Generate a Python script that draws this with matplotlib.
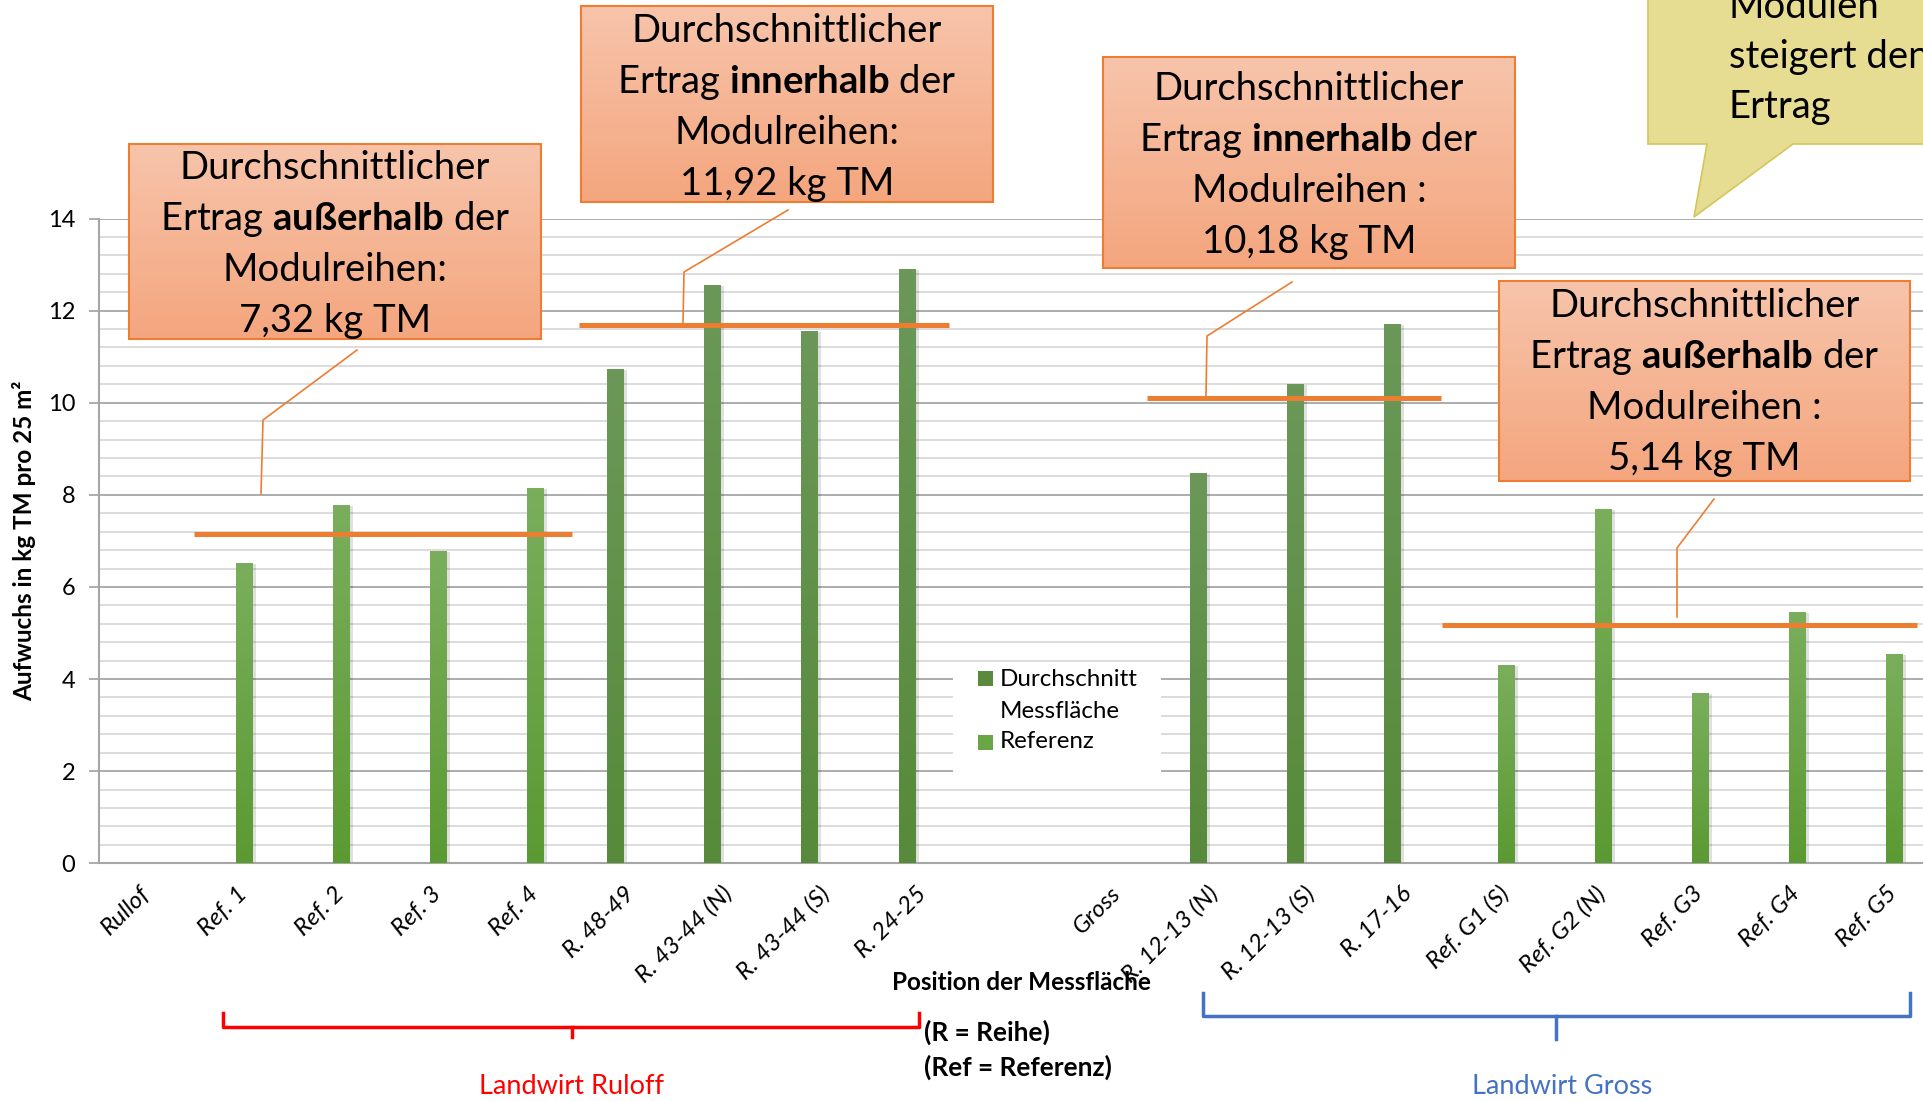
import numpy as np
import matplotlib
matplotlib.use("Agg")
import matplotlib.pyplot as plt
from matplotlib.patches import Rectangle, Polygon
from matplotlib.colors import to_rgb
from matplotlib import transforms

plt.rcParams['font.family'] = ['Lato', 'DejaVu Sans']
plt.rcParams['mathtext.fontset'] = 'custom'
plt.rcParams['mathtext.rm'] = 'Lato'
plt.rcParams['mathtext.bf'] = 'Lato:bold'

# Kategorien (Position der Messfläche), Index 9 ist eine leere Lücke
kategorien = ["Rullof", "Ref. 1", "Ref. 2", "Ref. 3", "Ref. 4", "R. 48-49",
              "R. 43-44 (N)", "R. 43-44 (S)", "R. 24-25", "", "Gross",
              "R. 12-13 (N)", "R. 12-13 (S)", "R. 17-16", "Ref. G1 (S)",
              "Ref. G2 (N)", "Ref. G3", "Ref. G4", "Ref. G5"]

nan = np.nan
# Aufwuchs in kg TM pro 25 m²
messflaeche = [nan, nan, nan, nan, nan, 10.73, 12.56, 11.56, 12.90, nan, nan,
               8.47, 10.41, 11.71, nan, nan, nan, nan, nan]
referenz = [nan, 6.53, 7.78, 6.79, 8.15, nan, nan, nan, nan, nan, nan,
            nan, nan, nan, 4.31, 7.69, 3.70, 5.46, 4.54]

# eingezeichnete Mittelwert-Linien (Niveau und Bereich in Kategorien)
linien_niveau = [7.14, 11.69, 10.10, 5.17]
linien_von = [0.57, 4.53, 10.38, 13.42]
linien_bis = [4.46, 8.35, 13.41, 18.32]

B, H = 1924, 1101
fig = plt.figure(figsize=(B / 100, H / 100), dpi=100)
ax = fig.add_axes([99 / B, 1 - 863.3 / H, 1 - 99 / B, (863.3 - 218.5) / H])

x = np.arange(len(kategorien))
breite = 0.175


def verlauf(rects, oben, unten):
    farben = np.linspace(to_rgb(oben), to_rgb(unten), 64)[:, None, :]
    for r in rects:
        h = r.get_height()
        if np.isnan(h):
            continue
        im = ax.imshow(farben, extent=(r.get_x(), r.get_x() + r.get_width(), 0, h),
                       origin='upper', aspect='auto', zorder=3, interpolation='bilinear')
        im.set_clip_path(r)


# Schatten der Balken
schatten = transforms.offset_copy(ax.transData, fig=fig, x=3, y=-1, units='dots')
for werte, dx in [(messflaeche, -breite / 2), (referenz, breite / 2)]:
    ax.bar(x + dx, werte, breite, color='black', alpha=0.12, transform=schatten, zorder=2)

b1 = ax.bar(x - breite / 2, messflaeche, breite, color='#5e8f44', zorder=3,
            label='Durchschnitt Messfläche')
b2 = ax.bar(x + breite / 2, referenz, breite, color='#68a63f', zorder=3, label='Referenz')
verlauf(b1, '#6b9858', '#578a3a')
verlauf(b2, '#7aae5c', '#5b9a33')

ax.hlines(linien_niveau, linien_von, linien_bis, color='#ed7d31', lw=3.6, zorder=4)

ax.set_xlim(-0.412, 18.39)
ax.set_ylim(0, 14)
ax.set_yticks(np.arange(0, 15, 2))
ax.set_yticks(np.linspace(0, 14, 36), minor=True)
ax.grid(which='major', axis='y', color='#a6a6a6', lw=1.3)
ax.grid(which='minor', axis='y', color='#d9d9d9', lw=1.3)
ax.set_axisbelow(True)
ax.tick_params(axis='y', which='major', length=7, width=1.3, color='#a6a6a6',
               labelsize=17, pad=10)
ax.tick_params(axis='y', which='minor', length=0)
ax.set_xticks(x)
ax.set_xticklabels(kategorien, rotation=45, ha='right', va='top',
                   rotation_mode='anchor', fontstyle='italic', fontsize=17.5)
ax.tick_params(axis='x', length=0, pad=14)
for s in ['top', 'right']:
    ax.spines[s].set_visible(False)
for s in ['left', 'bottom']:
    ax.spines[s].set_color('#a6a6a6')
    ax.spines[s].set_linewidth(1.5)

fig.text(24 / B, 1 - 541 / H, "Aufwuchs in kg TM pro 25 m²", rotation=90,
         ha='center', va='center', fontsize=17.5, fontweight='bold')

# Überlagerung in Pixelkoordinaten für Beschriftungen und Kästen
ov = fig.add_axes([0, 0, 1, 1])
ov.set_zorder(5)
ov.patch.set_alpha(0)
ov.axis('off')


def kasten(x0, y0, x1, y1, zeilen, basis, leine):
    farben = np.linspace(to_rgb('#f7c4ab'), to_rgb('#f4a67e'), 64)[:, None, :]
    ov.imshow(farben, extent=(x0, x1, y1, y0), origin='upper', aspect='auto', zorder=2)
    ov.add_patch(Rectangle((x0, y0), x1 - x0, y1 - y0, fill=False, ec='#ed7d31',
                           lw=1.5, zorder=3))
    for i, z in enumerate(zeilen):
        ov.text((x0 + x1) / 2, basis + i * 51, z, ha='center', va='baseline',
                fontsize=27.5, zorder=4)
    ov.plot(*zip(*leine), color='#ed7d31', lw=1.2, zorder=3)


kasten(129, 144, 541, 339,
       ["Durchschnittlicher", r"Ertrag $\mathbf{außerhalb}$ der", "Modulreihen:", "7,32 kg TM"],
       179, [(357, 350), (263, 420), (261, 494)])
kasten(581, 6, 993, 202,
       ["Durchschnittlicher", r"Ertrag $\mathbf{innerhalb}$ der", "Modulreihen:", "11,92 kg TM"],
       42, [(788, 210), (684, 272), (683, 323)])
kasten(1103, 57, 1515, 268,
       ["Durchschnittlicher", r"Ertrag $\mathbf{innerhalb}$ der", "Modulreihen :", "10,18 kg TM"],
       100, [(1292, 282), (1207, 336), (1206, 396)])
kasten(1499, 281, 1910, 481,
       ["Durchschnittlicher", r"Ertrag $\mathbf{außerhalb}$ der", "Modulreihen :", "5,14 kg TM"],
       317, [(1714, 499), (1677, 548), (1677, 617)])

# gelbe Sprechblase oben rechts (im Original abgeschnitten)
ov.add_patch(Polygon([(1648, -30), (1960, -30), (1960, 144), (1793, 144), (1694, 217),
                      (1707, 144), (1648, 144)], closed=True, fc='#e6dd92', ec='#d2c75a',
                     lw=1.2, zorder=2))
for i, z in enumerate(["Modulen", "steigert den", "Ertrag"]):
    ov.text(1729, 18 + i * 50, z, ha='left', va='baseline', fontsize=27.5, zorder=4)

# Legende
ov.add_patch(Rectangle((953, 664), 208, 120, fc='white', ec='none', zorder=1))
ov.add_patch(Rectangle((978, 671), 15, 15, fc='#5a8a3e', ec='none', zorder=2))
ov.add_patch(Rectangle((978, 735), 15, 15, fc='#6aa645', ec='none', zorder=2))
for t, yy in [("Durchschnitt", 679), ("Messfläche", 711), ("Referenz", 742)]:
    ov.text(1000, yy, t, ha='left', va='center', fontsize=17.4, zorder=3)

# Achsentitel und Hinweise
ov.text(1021, 983, "Position der Messfläche", ha='center', va='center',
        fontsize=17.5, fontweight='bold')
ov.text(924, 1032, "(R = Reihe)", ha='left', va='center', fontsize=19, fontweight='bold')
ov.text(924, 1067, "(Ref = Referenz)", ha='left', va='center', fontsize=19, fontweight='bold')

# Klammern der Landwirte
ov.plot([223.5, 223.5, 919.3, 919.3], [1013, 1026.7, 1026.7, 1013], color='#ff0000', lw=2.5)
ov.plot([572, 572], [1026.7, 1037], color='#ff0000', lw=2.5)
ov.text(572, 1087, "Landwirt Ruloff", ha='center', va='center', fontsize=19.5, color='#ff0000')
ov.plot([1203.3, 1203.3, 1910, 1910], [993, 1015.7, 1015.7, 993], color='#4472c4', lw=2.5)
ov.plot([1556, 1556], [1015.7, 1039], color='#4472c4', lw=2.5)
ov.text(1562, 1087, "Landwirt Gross", ha='center', va='center', fontsize=19.5, color='#4472c4')

ov.set_xlim(0, B)
ov.set_ylim(H, 0)
ax.set_xlim(-0.412, 18.39)
ax.set_ylim(0, 14)

fig.savefig("out.png", dpi=100)
